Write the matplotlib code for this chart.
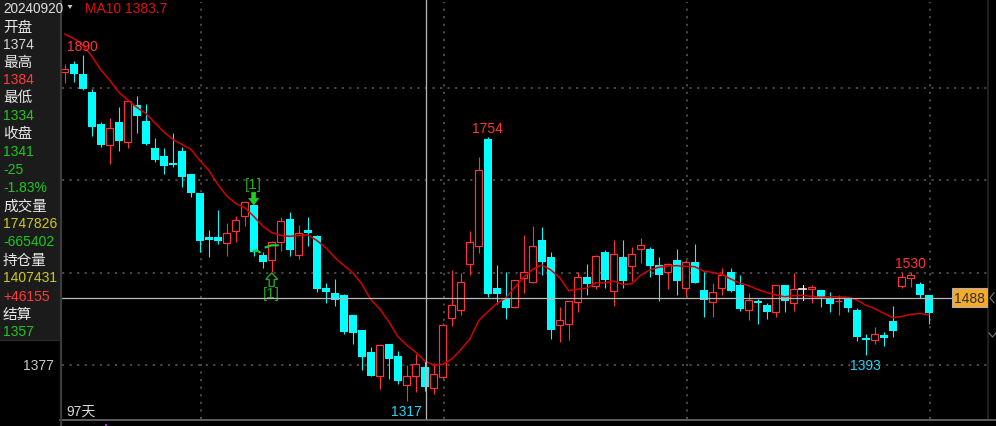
import matplotlib
matplotlib.use('Agg')
import matplotlib.pyplot as plt
from matplotlib.patches import Rectangle, Polygon
from matplotlib.transforms import blended_transform_factory
import numpy as np

# ---------------- data ----------------
cursor_date = "20240920"
opens = [1861, 1875, 1858, 1828, 1775, 1740, 1778, 1746, 1807, 1780,
         1736, 1722, 1711, 1731, 1693, 1661, 1588, 1588, 1578, 1598,
         1623, 1641, 1559, 1550, 1581, 1618, 1559, 1600, 1590, 1504,
         1496, 1493, 1460, 1435, 1399, 1359, 1412, 1392, 1344, 1359,
         1374, 1339, 1357, 1455, 1468, 1544, 1573, 1751, 1504, 1486,
         1473, 1520, 1514, 1584, 1556, 1443, 1444, 1481, 1522, 1508,
         1564, 1500, 1556, 1540, 1569, 1569, 1542, 1530, 1551, 1505,
         1547, 1501, 1481, 1505, 1530, 1509, 1468, 1483, 1476, 1465,
         1509, 1479, 1503, 1503, 1501, 1487, 1482, 1486, 1468, 1422,
         1419, 1427, 1449, 1508, 1520, 1511, 1493]
highs = [1875, 1880, 1890, 1834, 1778, 1785, 1803, 1814, 1822, 1808,
         1752, 1736, 1760, 1737, 1693, 1661, 1600, 1633, 1611, 1623,
         1647, 1641, 1564, 1582, 1621, 1630, 1608, 1621, 1592, 1513,
         1519, 1494, 1460, 1435, 1406, 1412, 1412, 1400, 1377, 1395,
         1384, 1380, 1446, 1534, 1529, 1598, 1721, 1754, 1542, 1530,
         1517, 1592, 1606, 1605, 1563, 1473, 1482, 1530, 1544, 1559,
         1567, 1584, 1584, 1572, 1587, 1572, 1556, 1545, 1569, 1551,
         1577, 1531, 1512, 1537, 1537, 1526, 1496, 1486, 1479, 1509,
         1509, 1529, 1510, 1509, 1501, 1497, 1493, 1486, 1472, 1428,
         1439, 1431, 1475, 1529, 1530, 1514, 1493]
lows = [1843, 1845, 1832, 1756, 1738, 1710, 1731, 1736, 1760, 1741,
        1713, 1693, 1705, 1672, 1655, 1563, 1556, 1577, 1558, 1580,
        1607, 1558, 1537, 1530, 1565, 1558, 1552, 1574, 1498, 1479,
        1475, 1428, 1412, 1368, 1358, 1337, 1354, 1346, 1317, 1332,
        1334, 1329, 1354, 1442, 1460, 1526, 1562, 1490, 1478, 1453,
        1471, 1496, 1513, 1526, 1420, 1415, 1418, 1465, 1493, 1503,
        1504, 1475, 1504, 1516, 1546, 1523, 1482, 1503, 1492, 1491,
        1513, 1456, 1457, 1493, 1497, 1467, 1451, 1445, 1453, 1456,
        1465, 1467, 1484, 1479, 1473, 1464, 1460, 1464, 1416, 1393,
        1412, 1409, 1423, 1505, 1506, 1488, 1445]
closes = [1867, 1858, 1833, 1771, 1740, 1768, 1748, 1813, 1789, 1742,
          1716, 1706, 1708, 1688, 1662, 1582, 1584, 1582, 1596, 1616,
          1646, 1564, 1547, 1580, 1615, 1567, 1596, 1595, 1503, 1498,
          1485, 1431, 1430, 1391, 1359, 1410, 1387, 1350, 1359, 1379,
          1341, 1362, 1443, 1476, 1515, 1580, 1699, 1495, 1495, 1471,
          1517, 1530, 1573, 1548, 1435, 1451, 1482, 1522, 1511, 1558,
          1518, 1560, 1516, 1560, 1575, 1540, 1525, 1544, 1516, 1547,
          1513, 1485, 1497, 1526, 1500, 1470, 1484, 1480, 1465, 1509,
          1482, 1503, 1503, 1506, 1489, 1478, 1483, 1471, 1424, 1419,
          1429, 1421, 1434, 1523, 1525, 1492, 1463]
ma10_head = [1924, 1917, 1906, 1888, 1865, 1848, 1828, 1815, 1803]

grid_prices = [1377, 1529.5, 1682, 1834.5]
axis_label_price = 1377
grid_candles = [15, 42, 69, 96]
cursor_idx = 40
cursor_price = 1488
volume = 1747826
volume_chg = -665402
open_interest = 1407431
oi_chg = 46155
settle = 1357
prev_settle = 1366
n_days = 97
high_labels = [2, 47, 94]
low_labels = [38, 89]
signal_down_idx = 21
signal_up_idx = 23

# ---------------- derived ----------------
n = len(closes)
ma10 = []
for i in range(n):
    if i < 9:
        ma10.append(ma10_head[i])
    else:
        ma10.append(float(np.mean(closes[i - 9:i + 1])))

# ---------------- figure ----------------
W, H = 996, 427
fig = plt.figure(figsize=(W / 100, H / 100), dpi=100, facecolor='black')
ax = fig.add_axes([0, 0, 1, 1])
ax.set_facecolor('black')
X0, DX = 64.7, 9.0
PREF, YREF, K = 1377, 366, 1.653
ax.set_xlim(-X0 / DX, (W - X0) / DX)
ax.set_ylim(PREF - (H - YREF) * K, PREF + YREF * K)
ax.axis('off')

PX = 0.72  # one pixel in points
NUMF = ['Liberation Sans', 'Noto Sans CJK SC']
CJKF = ['Noto Sans CJK SC', 'DejaVu Sans']

RED = '#ff3333'
CYAN = '#00ffff'
MA_RED = '#d40000'

# grid
gx0 = (62 - X0) / DX
gx1 = (988 - X0) / DX
for gp in grid_prices:
    ax.plot([gx0, gx1], [gp, gp], color='#505050', lw=1.8 * PX,
            linestyle=(0, (1.2, 3.0)), zorder=1)
for gc in grid_candles:
    ax.axvline(gc + 0.15, color='#505050', lw=1.8 * PX,
               linestyle=(0, (1.2, 3.0)), zorder=1, ymax=1 - 3 / H, ymin=7 / H)

# candles
bw_fill = 0.86
bw_hollow = 0.75
for i, (o, h, l, c) in enumerate(zip(opens, highs, lows, closes)):
    top, bot = max(o, c), min(o, c)
    if c > o:
        ax.plot([i, i], [top, h], color=RED, lw=PX * 1.1, zorder=3, solid_capstyle='butt')
        ax.plot([i, i], [l, bot], color=RED, lw=PX * 1.1, zorder=3, solid_capstyle='butt')
        ax.add_patch(Rectangle((i - bw_hollow / 2, bot), bw_hollow, top - bot,
                               facecolor='black', edgecolor=RED, lw=PX * 1.2, zorder=4))
    elif c < o:
        ax.plot([i, i], [l, h], color=CYAN, lw=PX * 1.1, zorder=3, solid_capstyle='butt')
        hgt = max(top - bot, 1.8)
        ax.add_patch(Rectangle((i - bw_fill / 2, bot), bw_fill, hgt,
                               facecolor=CYAN, edgecolor='none', lw=0, zorder=4))
    else:
        ax.plot([i, i], [l, h], color='white', lw=PX * 1.1, zorder=3)
        ax.plot([i - 0.4, i + 0.4], [o, o], color='white', lw=PX * 1.6, zorder=4)

# MA10
ax.plot(range(n), ma10, color=MA_RED, lw=1.1, zorder=5)

# extreme labels
for idx in high_labels:
    ax.annotate(f"{highs[idx]}", (idx, highs[idx]), xytext=(0, 9 * PX),
                textcoords='offset points', ha='center', va='center',
                color=RED, fontsize=10, family=NUMF, zorder=6)
for idx in low_labels:
    ax.annotate(f"{lows[idx]}", (idx, lows[idx]), xytext=(0, -9.5 * PX),
                textcoords='offset points', ha='center', va='center',
                color='#1ed6f5', fontsize=10, family=NUMF, zorder=6)


def to_px(x, y):
    dx, dy = ax.transData.transform((x, y))
    return dx, H - dy


# overlay (pixel coordinates)
ov = fig.add_axes([0, 0, 1, 1], facecolor='none')
ov.set_xlim(0, W)
ov.set_ylim(H, 0)
ov.axis('off')

# signals
sx, sy = to_px(signal_down_idx, highs[signal_down_idx])
ov.add_patch(Polygon([[sx - 2, sy - 13], [sx + 2, sy - 13], [sx + 2, sy - 7],
                      [sx + 5, sy - 7], [sx, sy - 0.5], [sx - 5, sy - 7],
                      [sx - 2, sy - 7]], closed=True, facecolor='#22cc22',
                     edgecolor='#22cc22', lw=0.5, zorder=7))
ov.text(sx, sy - 21, "[1]", ha='center', va='center', color='#22aa22',
        fontsize=11, family=NUMF, zorder=7)
ux, uy = to_px(signal_up_idx, lows[signal_up_idx])
ov.add_patch(Polygon([[ux, uy + 0.5], [ux + 6, uy + 7], [ux + 2.5, uy + 7],
                      [ux + 2.5, uy + 14], [ux - 2.5, uy + 14], [ux - 2.5, uy + 7],
                      [ux - 6, uy + 7]], closed=True, facecolor='none',
                     edgecolor='#22aa22', lw=1.0, zorder=7))
ov.text(ux, uy + 21, "[1]", ha='center', va='center', color='#22aa22',
        fontsize=11, family=NUMF, zorder=7)
ov.plot([sx, sx + 3, sx + 6], [sy + 46, sy + 45, sy + 47], color='#22cc22', lw=1.6, zorder=7)
ov.plot([ux - 6, ux, ux + 6], [sy + 42, sy + 40, sy + 40], color='#22cc22', lw=1.6, zorder=7)

# crosshair
cx, cyp = to_px(cursor_idx + 0.15, cursor_price)
ov.plot([cx, cx], [0, 420], color='#b8b8b8', lw=0.9, zorder=8)
ov.plot([62, 952], [cyp, cyp], color='#b8b8b8', lw=0.9, zorder=8)
ov.add_patch(Rectangle((952, cyp - 9.5), 35, 19, facecolor='#f7a928',
                       edgecolor='#b0b0b0', lw=0.8, zorder=9))
ov.text(969.5, cyp + 0.5, f"{cursor_price}", ha='center', va='center',
        color='#303030', fontsize=10, family=NUMF, zorder=10)
# right side scroll decorations
ov.plot([988, 988], [0, 420], color='#262626', lw=1.2, zorder=8)
ov.plot([994, 990, 994], [cyp - 5, cyp, cyp + 5], color='#7a7a7a', lw=0.8, zorder=9)
ov.plot([989, 992.5, 996], [334, 338, 334], color='#7a7a7a', lw=0.8, zorder=9)

# bottom line
ov.plot([60, W], [420.5, 420.5], color='#6e6e6e', lw=1.2, zorder=8)
ov.add_patch(Rectangle((104.5, 425), 2.5, 2, facecolor='#a030e0', edgecolor='none', zorder=9))
ov.text(66, 412, f"{n_days}天", ha='left', va='center', color='#d8d8d8',
        fontsize=10, family=NUMF, zorder=9)

# left panel
ov.add_patch(Rectangle((0, 0), 60, 341, facecolor='#1b1b1b', edgecolor='none', zorder=8))
ov.plot([60.5, 60.5], [0, H], color='#3c3c3c', lw=1.6, zorder=9)
ov.plot([0, 60], [341, 341], color='#2e2e2e', lw=0.8, zorder=9)

# y axis label
ax.text(54 / W, axis_label_price, f"{axis_label_price}",
        transform=blended_transform_factory(ax.transAxes, ax.transData),
        ha='right', va='center', color='#c8c8c8', fontsize=10, family=NUMF, zorder=9)

ov.text(3, 9, cursor_date, ha='left', va='center', color='#e0e0e0',
        fontsize=9.8, family=NUMF, zorder=10)
ov.add_patch(Polygon([[67.5, 6], [72.5, 6], [70, 10]], closed=True,
                     facecolor='#c8c8c8', edgecolor='none', zorder=10))
ov.text(85, 9, f"MA10 {ma10[cursor_idx]:.1f}", ha='left', va='center',
        color='#e01010', fontsize=10, family=NUMF, zorder=10)

chg = closes[cursor_idx] - prev_settle
pct = chg / prev_settle * 100
rows = [
    ("开盘", '#e8e8e8', CJKF), (f"{opens[cursor_idx]}", '#d8d8d8', NUMF),
    ("最高", '#e8e8e8', CJKF), (f"{highs[cursor_idx]}", '#ff3c3c', NUMF),
    ("最低", '#e8e8e8', CJKF), (f"{lows[cursor_idx]}", '#1ec81e', NUMF),
    ("收盘", '#e8e8e8', CJKF), (f"{closes[cursor_idx]}", '#1ec81e', NUMF),
    (f"{chg:+d}", '#1ec81e', NUMF), (f"{pct:+.2f}%", '#1ec81e', NUMF),
    ("成交量", '#e8e8e8', CJKF), (f"{volume}", '#d2c81e', NUMF),
    (f"{volume_chg:+d}", '#1ec81e', NUMF),
    ("持仓量", '#e8e8e8', CJKF), (f"{open_interest}", '#d2c81e', NUMF),
    (f"{oi_chg:+d}", '#ff3c3c', NUMF),
    ("结算", '#e8e8e8', CJKF), (f"{settle}", '#1ec81e', NUMF),
]
row_y = [28, 45, 63, 80, 98, 116, 134, 152, 170, 188, 207, 224, 242,
         261, 278, 297, 315, 332]
for (s, col, fam), yy in zip(rows, row_y):
    ov.text(3, yy, s, ha='left', va='center', color=col,
            fontsize=10.5 if fam is CJKF else 10, family=fam, zorder=10)

fig.savefig('out.png', dpi=100, facecolor='black')
